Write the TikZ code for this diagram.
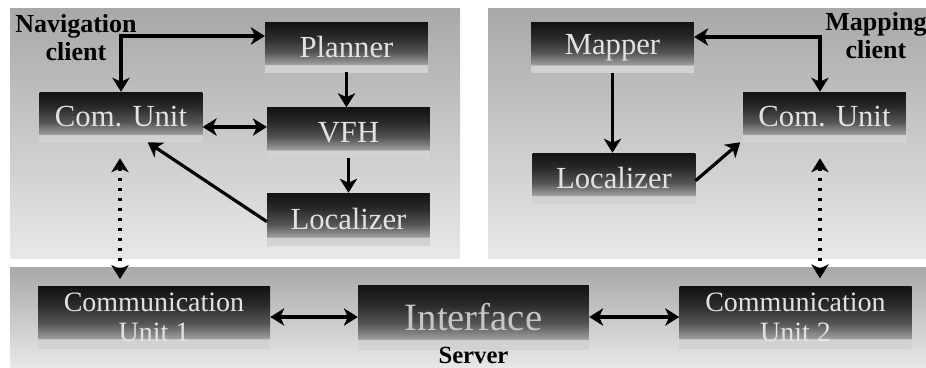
\documentclass[tikz,border=0pt]{standalone}
\usepackage{fontspec}
\setmainfont{Liberation Serif}
\usetikzlibrary{arrows.meta,calc}

\definecolor{panelTop}{HTML}{A8A8A8}
\definecolor{panelBot}{HTML}{E8E8E8}
\definecolor{boxTxt}{HTML}{E2E2E2}
\definecolor{ifaceTxt}{HTML}{C6C6C6}
\definecolor{stripC}{HTML}{D2D2D2}
\definecolor{bxA}{HTML}{9C9C9C}
\definecolor{bxB}{HTML}{555555}
\definecolor{bxC}{HTML}{2A2A2A}
\definecolor{bxD}{HTML}{121212}

\pgfdeclareverticalshading{boxshade}{100bp}{color(0bp)=(stripC); color(32bp)=(stripC); color(33bp)=(bxA); color(45bp)=(bxB); color(60bp)=(bxC); color(75bp)=(bxD); color(100bp)=(bxD)}

\tikzset{
  panel/.style={top color=panelTop, bottom color=panelBot, draw=none},
  boxnode/.style={shading=boxshade, text=boxTxt, inner sep=0pt,
    font=\fontsize{23}{26}\selectfont, minimum width=122pt, minimum height=37.5pt},
  widebox/.style={boxnode, minimum width=174pt, minimum height=46.5pt, align=center,
    font=\fontsize{21}{22.5}\selectfont},
  lbl/.style={font=\bfseries\fontsize{19.5}{21}\selectfont, align=center, inner sep=0pt, text=black},
  conn/.style={line width=2.4pt},
  bigconn/.style={line width=3pt},
  dotconn/.style={line width=2.6pt, dash pattern=on 2.6pt off 4.9pt, <->}
}

\begin{document}
\begin{tikzpicture}[x=0.75pt, y=-0.75pt, >={Stealth[length=10.5pt,width=13pt,inset=3pt]}]
\useasboundingbox (0,0) rectangle (926,368);
\fill[white] (0,0) rectangle (926,368);

% panels
\fill[panel] (10,8) rectangle (460,258);
\fill[panel] (488,8) rectangle (926,258);
\fill[panel] (10,267) rectangle (926,368);

% navigation client
\node[boxnode] (planner) at (346.5,47) {Planner};
\node[boxnode] (comL) at (121,117) {Com. Unit};
\node[boxnode] (vfh) at (348.5,132.5) {VFH};
\node[boxnode, minimum height=39pt] (locL) at (348.5,219) {Localizer};
\node[lbl, anchor=north] (navlbl) at (76,14) {Navigation\\client};

% mapping client
\node[boxnode] (mapper) at (612.5,47.5) {Mapper};
\node[boxnode] (comR) at (824.5,117) {Com. Unit};
\node[boxnode] (locR) at (614,178) {Localizer};
\node[lbl, anchor=north] (maplbl) at (876,12) {Mapping\\client};

% server
\node[widebox] (cu1) at (154,317) {Communication\\Unit 1};
\node[boxnode, minimum width=173pt, minimum height=48pt, text=ifaceTxt,
      font=\fontsize{29}{32}\selectfont] (iface) at (473.5,317) {Interface};
\node[widebox] (cu2) at (795.5,317) {Communication\\Unit 2};
\node[lbl, anchor=base, font=\bfseries\fontsize{18.5}{20}\selectfont] (srvlbl) at (473.5,363) {Server};

% navigation connectors
\coordinate (pinP) at ([yshift=8.25pt]planner.west);
\draw[conn, <->] (pinP) -| (comL.north);
\draw[conn, ->] (planner.south) -- (planner.south |- vfh.north);
\coordinate (cvL) at ([yshift=-7.5pt]comL.east);
\draw[conn, <->] (cvL) -- (cvL -| vfh.west);
\draw[conn, ->] (vfh.south) -- (vfh.south |- locL.north);
\draw[conn, ->] ([yshift=-2pt]locL.west) -- ([xshift=20pt]comL.south);

% mapping connectors
\coordinate (pinM) at ([yshift=7.9pt]mapper.east);
\draw[conn, <->] (pinM) -| ([xshift=-3.4pt]comR.north);
\draw[conn, ->] (mapper.south) -- (mapper.south |- locR.north);
\draw[conn, ->] ([yshift=-2pt]locR.east) -- ([xshift=-2pt]comR.south west);

% client-server links
\coordinate (dL) at ([xshift=-0.75pt]comL.south);
\draw[dotconn, shorten <=12pt, shorten >=5pt] (dL) -- (dL |- cu1.north);
\coordinate (dR) at ([xshift=-3.4pt]comR.south);
\draw[dotconn, shorten <=12pt, shorten >=5.5pt] (dR) -- (dR |- cu2.north);

% server connectors
\draw[bigconn, <->] (cu1.east) -- (iface.west);
\draw[bigconn, <->] (iface.east) -- (cu2.west);
\end{tikzpicture}
\end{document}
